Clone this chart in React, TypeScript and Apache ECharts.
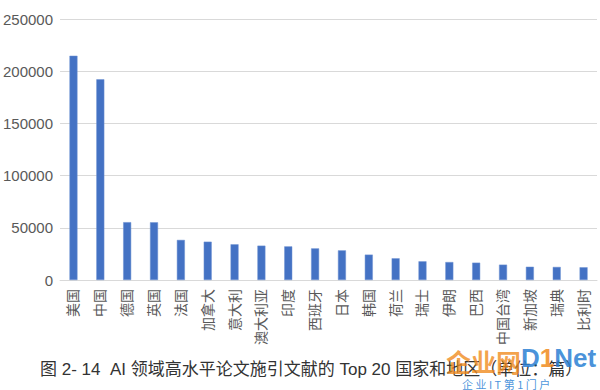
import React, { useEffect, useRef } from "react";
import * as echarts from "echarts";

const categories = ["美国", "中国", "德国", "英国", "法国", "加拿大", "意大利", "澳大利亚", "印度", "西班牙", "日本", "韩国", "荷兰", "瑞士", "伊朗", "巴西", "中国台湾", "新加坡", "瑞典", "比利时"];
const citations = [214800, 192200, 55400, 55300, 38400, 36700, 34200, 32900, 32200, 30300, 28400, 24300, 20800, 17900, 17200, 16600, 14700, 12700, 12500, 12200];
const yTicks = [0, 50000, 100000, 150000, 200000, 250000];
const title = "图 2- 14  AI 领域高水平论文施引文献的 Top 20 国家和地区（单位：篇）";
const wmMain = "企业网";
const wmBrand = ["D", "1", "Net"];
const wmSub = "企 业 I T 第 1 门 户";

const FONT = "'Liberation Sans', 'Noto Sans CJK SC', sans-serif";

export default function App() {
  const ref = useRef<HTMLDivElement>(null);
  useEffect(() => {
    if (!ref.current) return;
    const chart = echarts.init(ref.current, null, { renderer: "svg" });
    chart.setOption({
      animation: false,
      backgroundColor: "#ffffff",
      textStyle: { fontFamily: FONT },
      grid: { left: 60, right: 3, top: 19, bottom: 110, containLabel: false },
      xAxis: {
        type: "category",
        data: categories,
        axisLine: { lineStyle: { color: "#d9d9d9", width: 1 } },
        axisTick: { show: false },
        axisLabel: {
          rotate: 90,
          interval: 0,
          margin: 9,
          fontSize: 14,
          color: "#595959",
          fontFamily: FONT,
        },
      },
      yAxis: {
        type: "value",
        min: yTicks[0],
        max: yTicks[yTicks.length - 1],
        interval: 50000,
        axisLine: { show: false },
        axisTick: { show: false },
        splitLine: { lineStyle: { color: "#d9d9d9", width: 1 } },
        axisLabel: {
          fontSize: 15,
          color: "#595959",
          margin: 7,
          fontFamily: FONT,
          formatter: (v: number) => String(v),
        },
      },
      series: [
        {
          type: "bar",
          data: citations,
          barWidth: 8,
          itemStyle: { color: "#4472c4", borderColor: "#6f93d3", borderWidth: 0.5 },
        },
      ],
      graphic: [
        {
          type: "text",
          left: 40,
          top: 361,
          style: { text: title, fontSize: 17, fill: "#333333", fontFamily: FONT },
        },
        {
          type: "text",
          left: 446,
          top: 348,
          style: {
            text: wmMain,
            fontSize: 25,
            fontWeight: "bold",
            fill: "#f08a1c",
            opacity: 0.8,
            fontFamily: "'Noto Sans CJK SC', sans-serif",
          },
        },
        {
          type: "text",
          left: 521,
          top: 345,
          style: {
            rich: {
              a: { fontSize: 26, fontWeight: "bold", fill: "#2a7fd4", fontFamily: "'Liberation Sans', sans-serif" },
              b: { fontSize: 26, fontWeight: "bold", fill: "#f08a1c", fontFamily: "'Liberation Sans', sans-serif" },
            },
            text: `{a|${wmBrand[0]}}{b|${wmBrand[1]}}{a|${wmBrand[2]}}`,
            opacity: 0.85,
          },
        },
        {
          type: "text",
          left: 462,
          top: 378,
          style: { text: wmSub, fontSize: 11, fill: "#2a7fd4", opacity: 0.85, fontFamily: "'Noto Sans CJK SC', sans-serif" },
        },
      ],
    });
    return () => chart.dispose();
  }, []);
  return <div ref={ref} style={{ position: "fixed", left: 0, top: 0, width: 600, height: 390 }} />;
}
